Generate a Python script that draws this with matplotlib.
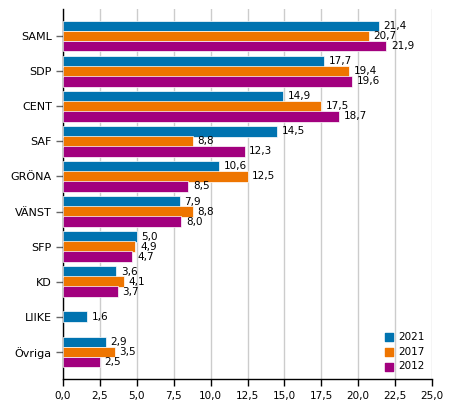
import matplotlib
matplotlib.use("Agg")
import matplotlib.pyplot as plt
import numpy as np

categories = ["SAML", "SDP", "CENT", "SAF", "GRÖNA", "VÄNST", "SFP", "KD", "LIIKE", "Övriga"]
years = ["2021", "2017", "2012"]
v2021 = [21.4, 17.7, 14.9, 14.5, 10.6, 7.9, 5.0, 3.6, 1.6, 2.9]
v2017 = [20.7, 19.4, 17.5, 8.8, 12.5, 8.8, 4.9, 4.1, None, 3.5]
v2012 = [21.9, 19.6, 18.7, 12.3, 8.5, 8.0, 4.7, 3.7, None, 2.5]
series = [v2021, v2017, v2012]
colors = ["#0073B0", "#EE7500", "#A2007E"]
xticks = np.arange(0, 25.01, 2.5)

plt.rcParams['font.family'] = ['DejaVu Sans']
fig = plt.figure(figsize=(4.54, 4.16), dpi=100)
ax = fig.add_axes([63/454, 1-379/416, (432-63)/454, (379-9)/416])

h = 0.31
off = 0.285
for i, cat in enumerate(categories):
    present = [k for k in range(3) if series[k][i] is not None]
    n = len(present)
    for j, k in enumerate(present):
        y = i + (j - (n - 1) / 2) * off
        v = series[k][i]
        ax.barh(y, v, height=h, color=colors[k], edgecolor="white", linewidth=0.5, zorder=3)
        ax.text(v + 0.32, y, f"{v:.1f}".replace(".", ","), va="center", ha="left",
                fontsize=7.5, color="#000000", zorder=4)

for k in range(3):
    ax.scatter([], [], marker="s", s=30, color=colors[k], label=years[k])
leg = ax.legend(loc="lower right", frameon=False, fontsize=7.5, handletextpad=0.3,
                labelspacing=0.45, bbox_to_anchor=(1.006, -0.005), handlelength=1.2)

ax.set_yticks(range(len(categories)))
ax.set_yticklabels(categories, fontsize=8)
ax.set_ylim(len(categories) - 1 + 0.77, -0.77)
ax.set_xlim(0, 25)
ax.set_xticks(xticks)
ax.set_xticklabels([f"{t:.1f}".replace(".", ",") for t in xticks], fontsize=7.5)
ax.xaxis.grid(True, color="#cccccc", linewidth=1, zorder=0)
ax.set_axisbelow(True)
for s in ["top", "right"]:
    ax.spines[s].set_visible(False)
ax.spines["left"].set_color("#000000")
ax.spines["left"].set_linewidth(1)
ax.spines["bottom"].set_color("#000000")
ax.spines["bottom"].set_linewidth(1)
ax.tick_params(axis="y", length=5, color="#666666", width=1, pad=3)
ax.tick_params(axis="x", length=5, color="#000000", width=1, pad=4)

fig.savefig("out.png", dpi=100)
